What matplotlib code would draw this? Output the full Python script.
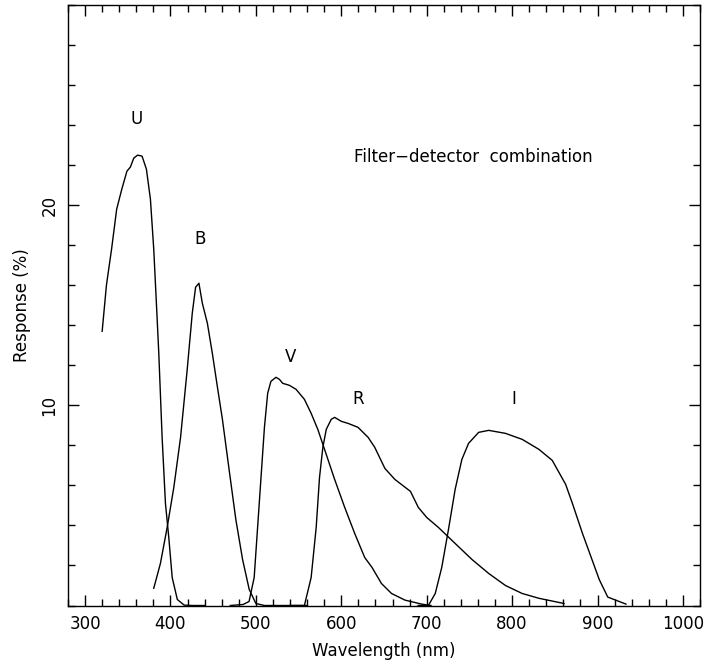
import matplotlib.pyplot as plt
from matplotlib.ticker import MultipleLocator

# === CURVAS (nm, %) ===
u_wl = [320, 325, 331, 337, 343, 349, 353, 357, 361.5, 366.7, 371.8, 376.5, 380.4,
        384.3, 386.3, 390.2, 394.1, 398, 402, 408, 416, 425, 440]
u_resp = [13.7, 16.0, 17.8, 19.8, 20.8, 21.7, 21.9, 22.35, 22.5, 22.45, 21.8, 20.3, 17.8,
          14.4, 12.6, 8.4, 5.1, 3.4, 1.4, 0.3, 0.02, 0.0, 0.0]

b_wl = [380.4, 388.2, 396.1, 403.9, 411.8, 419.6, 425.5, 429.4, 433.3, 437.3, 443.2,
        449, 455, 460.8, 468.6, 476.5, 484.4, 492.2, 500, 510, 530, 560]
b_resp = [0.86, 2.1, 3.9, 5.9, 8.4, 11.8, 14.6, 15.9, 16.1, 15.1, 14.1,
          12.6, 10.9, 9.3, 6.8, 4.3, 2.3, 0.8, 0.1, 0.0, 0.0, 0.0]

v_wl = [470, 485, 492, 498, 502, 506, 510, 513.8, 517.6, 523.5, 527.5, 531.4, 539.2,
        547, 556.8, 564.7, 572.5, 580.4, 592.2, 604, 615.7, 627.4, 636, 647, 658.8,
        674.5, 694, 705]
v_resp = [0.0, 0.05, 0.2, 1.4, 3.9, 6.4, 8.9, 10.6, 11.2, 11.4, 11.3, 11.1, 11.0,
          10.8, 10.3, 9.6, 8.8, 7.8, 6.3, 4.9, 3.6, 2.4, 1.9, 1.1, 0.6,
          0.27, 0.07, 0.0]

r_wl = [540, 556.8, 564.7, 570.6, 574.5, 578.4, 582.4, 588.2, 592.2, 600, 607.8,
        619.6, 631.4, 639.2, 651, 662.7, 681, 690.2, 700, 713.7, 733.3, 753,
        772.6, 792.2, 811.8, 831.4, 860.8]
r_resp = [0.0, 0.0, 1.4, 3.9, 6.4, 7.9, 8.8, 9.3, 9.4, 9.2, 9.1,
          8.9, 8.4, 7.9, 6.85, 6.3, 5.7, 4.9, 4.4, 3.9, 3.1, 2.3,
          1.6, 1.0, 0.6, 0.36, 0.1]

i_wl = [690, 702, 710, 717.6, 725.5, 733.3, 741.2, 749, 760.8, 772.6, 792.2, 811.8,
        831.4, 847, 862.7, 870.6, 882.4, 902, 912, 933.3]
i_resp = [0.0, 0.0, 0.6, 1.9, 3.8, 5.8, 7.3, 8.1, 8.65, 8.75, 8.6, 8.3,
          7.8, 7.25, 6.05, 5.1, 3.6, 1.3, 0.42, 0.07]

# rotulos das curvas: (texto, x, y)
rotulos = [('U', 360, 24.3), ('B', 435, 18.3), ('V', 541, 12.4),
           ('R', 620, 10.3), ('I', 802, 10.3)]

plt.rcParams['font.family'] = 'DejaVu Sans'
fig = plt.figure(figsize=(7.06, 6.72), dpi=100)
ax = fig.add_axes([68 / 706, 1 - 605.5 / 672, 632 / 706, 600.5 / 672])

for wl, resp in [(u_wl, u_resp), (b_wl, b_resp), (v_wl, v_resp),
                 (r_wl, r_resp), (i_wl, i_resp)]:
    ax.plot(wl, resp, color='black', lw=1.0)

for txt, x, y in rotulos:
    ax.text(x, y, txt, ha='center', va='center', fontsize=12)
ax.text(754, 22.4, 'Filter\u2212detector  combination', ha='center', va='center',
        fontsize=12)

ax.set_xlim(280, 1020)
ax.set_ylim(0, 30)
ax.xaxis.set_major_locator(MultipleLocator(100))
ax.xaxis.set_minor_locator(MultipleLocator(20))
ax.yaxis.set_major_locator(MultipleLocator(10))
ax.yaxis.set_minor_locator(MultipleLocator(2))
ax.set_xticks([300, 400, 500, 600, 700, 800, 900, 1000])
ax.set_yticks([10, 20])
ax.tick_params(which='both', direction='in', top=True, right=True, width=1)
ax.tick_params(which='major', length=8, labelsize=12, pad=7)
ax.tick_params(which='minor', length=5)
for lab in ax.get_yticklabels():
    lab.set_rotation(90)
    lab.set_va('center')
for s in ax.spines.values():
    s.set_linewidth(1)

ax.set_xlabel('Wavelength (nm)', fontsize=12, labelpad=6)
ax.set_ylabel('Response (%)', fontsize=12, labelpad=7)

fig.savefig('out.png', dpi=100)
